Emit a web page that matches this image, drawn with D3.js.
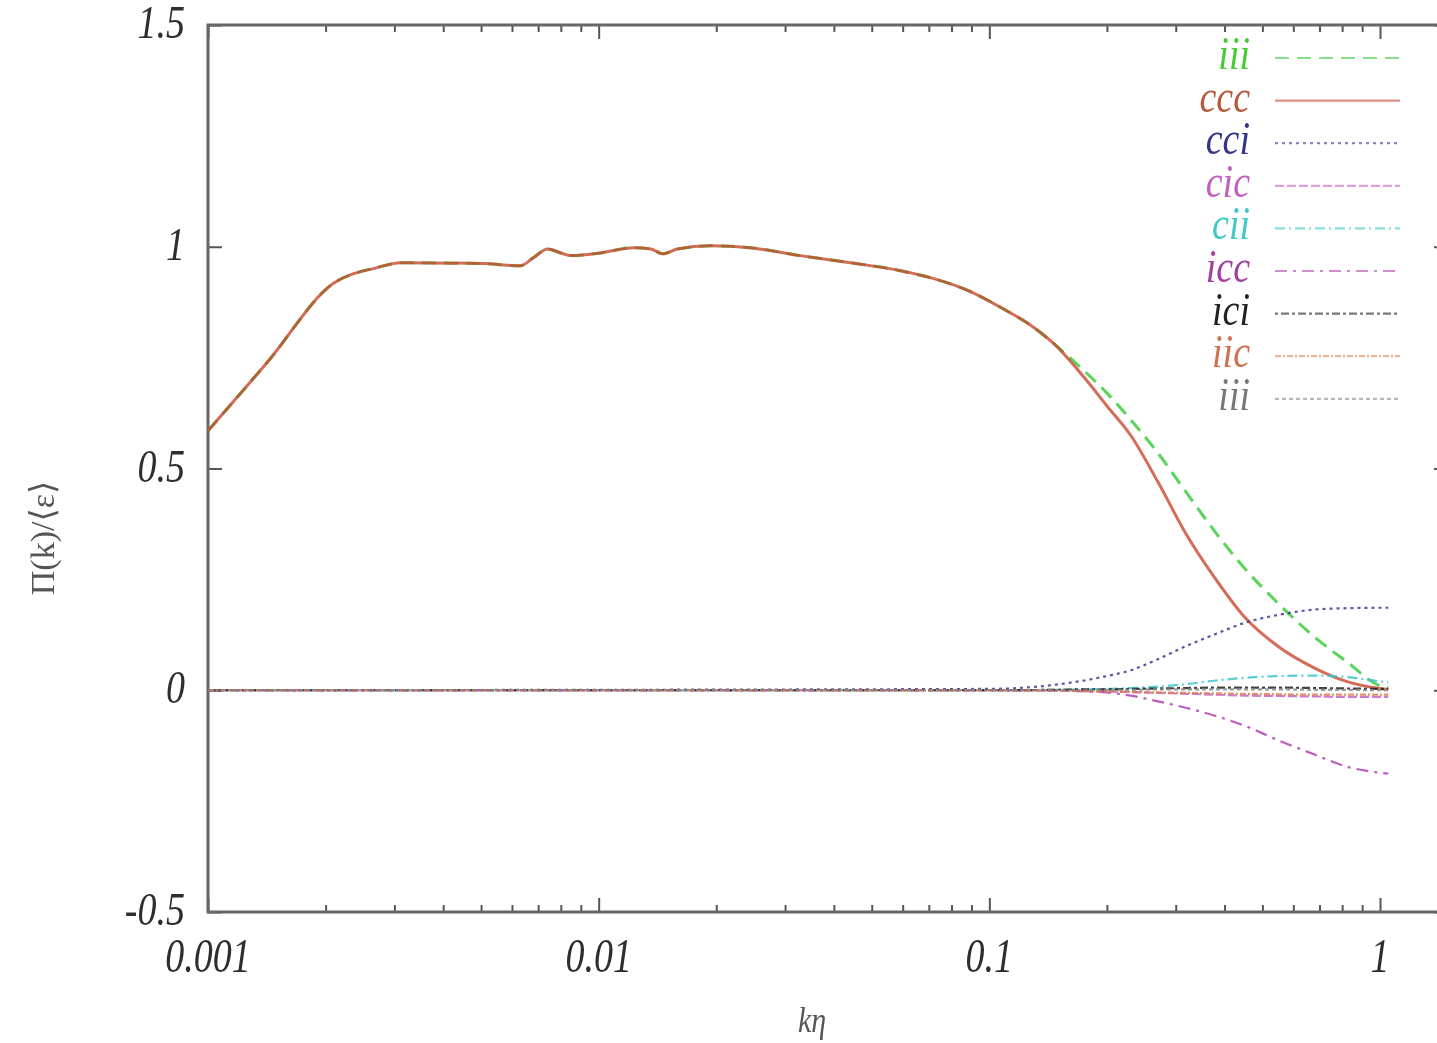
<!DOCTYPE html>
<html>
<head>
<meta charset="utf-8">
<script src="https://d3js.org/d3.v7.min.js"></script>
<style>
  html, body { margin: 0; padding: 0; background: #fff; }
  svg { display: block; }
  .lbl { font-family: 'Liberation Serif', 'DejaVu Serif', serif; font-style: italic; }
</style>
</head>
<body>
<div id="chart"></div>
<script>
// ---- data ----
var kMain = [0.001, 0.00142, 0.00209, 0.00271, 0.00311, 0.00507, 0.0063, 0.0068, 0.0074, 0.008, 0.0085,
             0.0101, 0.0123, 0.0136, 0.0146, 0.0159, 0.0193, 0.0244, 0.0328, 0.0441, 0.0593, 0.0721,
             0.0883, 0.107, 0.130, 0.146];
var mainVals = [0.585, 0.74, 0.917, 0.953, 0.964, 0.962, 0.957, 0.975, 0.995, 0.986, 0.98,
                0.986, 0.998, 0.995, 0.984, 0.995, 1.002, 0.998, 0.98, 0.964, 0.946, 0.928,
                0.901, 0.863, 0.818, 0.782];

var kTail = [0.175, 0.2, 0.23, 0.27, 0.32, 0.38, 0.45, 0.55, 0.68, 0.82, 1.0, 1.05];
var cccTail = [0.705, 0.641, 0.575, 0.47, 0.35, 0.25, 0.165, 0.098, 0.05, 0.02, 0.004, 0.002];
var greenTail = [0.72, 0.67, 0.61, 0.535, 0.445, 0.355, 0.275, 0.195, 0.12, 0.065, 0.01, 0.005];

var kGrid = [0.001, 0.1, 0.146, 0.175, 0.2, 0.23, 0.27, 0.32, 0.38, 0.45, 0.55, 0.68, 0.82, 1.0, 1.05];
var cciVals = [0, 0.003, 0.012, 0.022, 0.032, 0.045, 0.07, 0.10, 0.127, 0.152, 0.17, 0.182, 0.185, 0.186, 0.186];
var cicVals = [0, 0, -0.001, -0.002, -0.003, -0.004, -0.006, -0.008, -0.01, -0.012, -0.013, -0.014, -0.015, -0.015, -0.015];
var ciiVals = [0, 0, 0.001, 0.002, 0.003, 0.005, 0.008, 0.014, 0.022, 0.028, 0.032, 0.033, 0.03, 0.02, 0.018];
var iccVals = [0, 0, 0, -0.002, -0.005, -0.012, -0.025, -0.04, -0.058, -0.08, -0.113, -0.145, -0.172, -0.186, -0.188];
var iciVals = [0, 0, 0.001, 0.002, 0.002, 0.003, 0.004, 0.005, 0.006, 0.006, 0.006, 0.005, 0.004, 0.003, 0.003];
var iicVals = [0, 0, -0.001, -0.002, -0.003, -0.004, -0.005, -0.006, -0.007, -0.008, -0.009, -0.01, -0.01, -0.01, -0.01];
var iiiVals = [0, 0, 0, 0, 0.001, 0.001, 0.002, 0.002, 0.002, 0.002, 0.002, 0.001, 0.001, 0, 0];

var seriesNames = ['iii', 'ccc', 'cci', 'cic', 'cii', 'icc', 'ici', 'iic', 'iii'];
var seriesColors = ['#3ccc3c', '#c8472e', '#3a3a96', '#c860c8', '#3cc8c8', '#b040b0', '#222222', '#e08050', '#888888'];
var labelColors = ['#44cc33', '#b5583a', '#35358a', '#c060c0', '#40c8c8', '#a040a0', '#222222', '#d07050', '#777777'];
var seriesDash = ['14,8', null, '3,4', '9,3', '10,4,2,4', '12,6,3,6', '3,3,8,3', '6,2,2,2', '4,3'];

var xTicks = [0.001, 0.01, 0.1, 1];
var xTickLabels = ['0.001', '0.01', '0.1', '1'];
var yTicks = [-0.5, 0, 0.5, 1, 1.5];
var yTickLabels = ['-0.5', '0', '0.5', '1', '1.5'];

// ---- layout ----
var W = 1437, H = 1043;
var pLeft = 208, pTop = 25, pBottom = 912, pRight = 1448;

var x = d3.scaleLog().domain([0.001, 1]).range([pLeft, 1380]);
var y = d3.scaleLinear().domain([-0.5, 1.5]).range([pBottom, pTop]);

var svg = d3.select('#chart').append('svg').attr('width', W).attr('height', H);
var defs = svg.append('defs');
defs.append('filter').attr('id', 'soft').append('feGaussianBlur').attr('stdDeviation', 0.7);

var g = svg.append('g').attr('filter', 'url(#soft)');

// minor log ticks
var minors = [];
[0.001, 0.01, 0.1].forEach(function(d) {
  for (var i = 2; i <= 9; i++) minors.push(d * i);
});

function styleAxis(sel) {
  sel.select('.domain').remove();
  sel.selectAll('.tick line').attr('stroke', '#555').attr('stroke-width', 2);
}

g.append('g').attr('transform', 'translate(0,' + pBottom + ')')
  .call(d3.axisBottom(x).tickValues(xTicks).tickSize(-14).tickFormat(''))
  .call(styleAxis);
g.append('g').attr('transform', 'translate(0,' + pBottom + ')')
  .call(d3.axisBottom(x).tickValues(minors).tickSize(-7).tickFormat(''))
  .call(styleAxis);
g.append('g').attr('transform', 'translate(0,' + pTop + ')')
  .call(d3.axisTop(x).tickValues(xTicks).tickSize(-14).tickFormat(''))
  .call(styleAxis);
g.append('g').attr('transform', 'translate(0,' + pTop + ')')
  .call(d3.axisTop(x).tickValues(minors).tickSize(-7).tickFormat(''))
  .call(styleAxis);
g.append('g').attr('transform', 'translate(' + pLeft + ',0)')
  .call(d3.axisLeft(y).tickValues(yTicks).tickSize(-14).tickFormat(''))
  .call(styleAxis);
g.append('g').attr('transform', 'translate(' + pRight + ',0)')
  .call(d3.axisRight(y).tickValues(yTicks).tickSize(-14).tickFormat(''))
  .call(styleAxis);

// frame
g.append('path')
  .attr('d', 'M' + pRight + ',' + pTop + 'H' + pLeft + 'V' + pBottom + 'H' + pRight)
  .attr('fill', 'none').attr('stroke', '#666').attr('stroke-width', 3);

// tick labels
g.selectAll('.xl').data(xTicks).enter().append('text')
  .attr('class', 'lbl')
  .attr('transform', function(d) { return 'translate(' + x(d) + ',972) scale(1,1.25)'; })
  .attr('text-anchor', 'middle')
  .attr('font-size', 38).attr('fill', '#2e2e2e')
  .text(function(d, i) { return xTickLabels[i]; });

g.selectAll('.yl').data(yTicks).enter().append('text')
  .attr('class', 'lbl')
  .attr('transform', function(d) { return 'translate(185,' + (y(d) + 13) + ') scale(1,1.2)'; })
  .attr('text-anchor', 'end')
  .attr('font-size', 38).attr('fill', '#2e2e2e')
  .text(function(d, i) { return yTickLabels[i]; });

// axis titles
g.append('text').attr('class', 'lbl')
  .attr('transform', 'translate(812,1032) scale(1,1.2)')
  .attr('text-anchor', 'middle').attr('font-size', 30).attr('fill', '#555')
  .text('kη');
g.append('text').attr('class', 'lbl')
  .attr('transform', 'translate(54,538) rotate(-90)')
  .attr('text-anchor', 'middle').attr('font-size', 34).attr('fill', '#555')
  .style('font-style', 'normal')
  .text('Π(k)/⟨ε⟩');

// ---- curves ----
var line = d3.line()
  .x(function(d) { return x(d[0]); })
  .y(function(d) { return y(d[1]); })
  .curve(d3.curveMonotoneX);

function zip(ks, vs) { return ks.map(function(k, i) { return [k, vs[i]]; }); }

var seriesData = [
  zip(kMain.concat(kTail), mainVals.concat(greenTail)),
  zip(kMain.concat(kTail), mainVals.concat(cccTail)),
  zip(kGrid, cciVals),
  zip(kGrid, cicVals),
  zip(kGrid, ciiVals),
  zip(kGrid, iccVals),
  zip(kGrid, iciVals),
  zip(kGrid, iicVals),
  zip(kGrid, iiiVals)
];

seriesData.forEach(function(d, i) {
  g.append('path')
    .datum(d)
    .attr('d', line)
    .attr('fill', 'none')
    .attr('stroke', seriesColors[i])
    .attr('stroke-width', i < 2 ? 3 : 2.2)
    .attr('stroke-opacity', i == 1 ? 0.8 : 0.85)
    .attr('stroke-dasharray', seriesDash[i]);
});

// ---- legend ----
var leg = g.selectAll('.leg').data(seriesNames).enter().append('g')
  .attr('transform', function(d, i) { return 'translate(0,' + (58 + i * 42.6) + ')'; });

leg.append('line')
  .attr('x1', 1275).attr('x2', 1400)
  .attr('stroke', function(d, i) { return seriesColors[i]; })
  .attr('stroke-width', 2.2)
  .attr('stroke-opacity', 0.6)
  .attr('stroke-dasharray', function(d, i) { return seriesDash[i]; });

leg.append('text').attr('class', 'lbl')
  .attr('transform', 'translate(1250,11) scale(1,1.2)')
  .attr('text-anchor', 'end')
  .attr('font-size', 38)
  .attr('fill', function(d, i) { return labelColors[i]; })
  .text(function(d) { return d; });
</script>
</body>
</html>
